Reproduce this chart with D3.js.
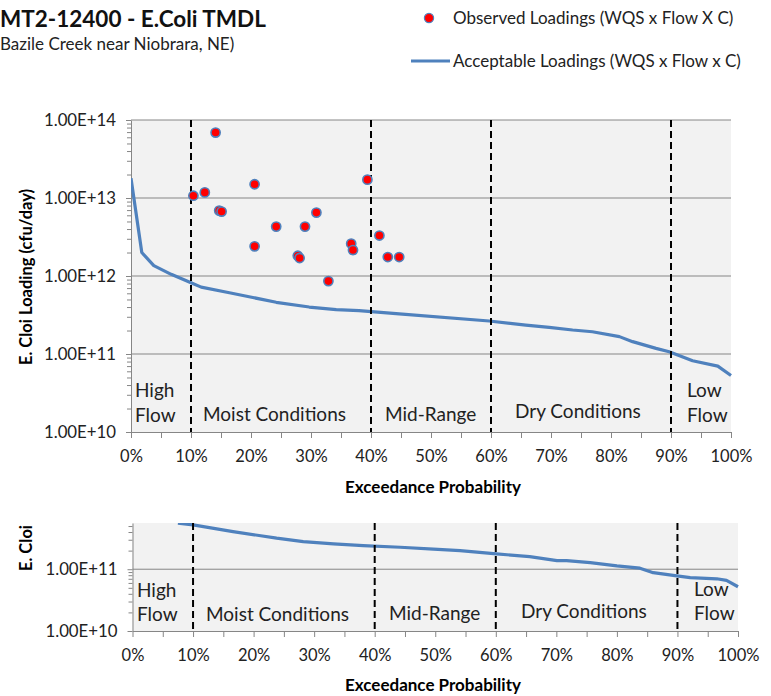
<!DOCTYPE html>
<html>
<head>
<meta charset="utf-8">
<script src="https://cdn.jsdelivr.net/npm/d3@7"></script>
<style>
  body { margin: 0; background: #fff; }
  svg { display: block; font-family: Lato, "Open Sans", sans-serif; }
</style>
</head>
<body>
<svg width="771" height="696"></svg>
<script>
// flow duration curve (acceptable loadings), exceedance % and cfu/day
var curvePct  = [0, 1.8, 3.8, 6.7, 10, 11.7, 16.4, 20.3, 24.2, 29.7, 34.2, 38, 44.7, 59.7, 65.8, 69.7, 73.6, 76.9, 81.4, 83.6, 87.5, 89.7, 93.6, 97.8, 100];
var curveLoad = [1.79e13, 2.0e12, 1.36e12, 1.05e12, 8.2e11, 7.2e11, 6.1e11, 5.3e11, 4.6e11, 4.0e11, 3.7e11, 3.6e11, 3.26e11, 2.65e11, 2.35e11, 2.2e11, 2.03e11, 1.93e11, 1.67e11, 1.44e11, 1.18e11, 1.07e11, 8.2e10, 7.0e10, 5.3e10];

// observed loadings
var obsPct  = [10.4, 12.3, 14.1, 14.7, 15.1, 20.6, 20.6, 24.2, 27.8, 28.1, 29.0, 30.9, 32.9, 36.7, 37.0, 39.4, 41.4, 42.8, 44.7];
var obsLoad = [1.07e13, 1.18e13, 6.9e13, 6.9e12, 6.7e12, 1.5e13, 2.4e12, 4.3e12, 1.82e12, 1.7e12, 4.3e12, 6.5e12, 8.6e11, 2.6e12, 2.15e12, 1.72e13, 3.3e12, 1.75e12, 1.75e12];

// curve shown in the lower (cropped) chart
var lowerPct  = [7.5, 10, 16.6, 23.8, 28.2, 33.2, 38.1, 44.2, 49.7, 54.1, 60.1, 65.6, 70.1, 71.7, 75.6, 80.0, 83.8, 86.0, 89.9, 92.1, 96.5, 98.1, 100];
var lowerLoad = [5.57e11, 5.22e11, 4.07e11, 3.18e11, 2.8e11, 2.57e11, 2.41e11, 2.27e11, 2.11e11, 2.0e11, 1.77e11, 1.6e11, 1.38e11, 1.38e11, 1.28e11, 1.13e11, 1.04e11, 8.8e10, 7.8e10, 7.3e10, 7.0e10, 6.6e10, 5.2e10];

var zoneBreaks = [10, 40, 60, 90];
var xTickVals = d3.range(0, 101, 5);

var svg = d3.select('svg');
var blue = '#4f81bd';
var axisGray = '#868686';

function drawPanel(p) {
  var x = d3.scaleLinear().domain([0, 100]).range([p.left, p.right]);
  var y = d3.scaleLog().domain(p.yDomain).range([p.bottom, p.top]);
  var g = svg.append('g');

  g.append('rect')
    .attr('x', p.left).attr('y', p.top)
    .attr('width', p.right - p.left).attr('height', p.bottom - p.top)
    .attr('fill', '#f2f2f2');

  // decade grid lines
  var decades = p.decades;
  g.selectAll('.grid').data(decades.slice(1)).enter().append('line')
    .attr('x1', p.left).attr('x2', p.right)
    .attr('y1', function(d) { return y(d) }).attr('y2', function(d) { return y(d) })
    .attr('stroke', axisGray).attr('stroke-width', 1);

  // minor log ticks
  var minors = [];
  decades.forEach(function(d) {
    for (var k = 2; k <= 9; k++) { if (d * k <= p.yDomain[1]) minors.push(d * k); }
  });
  g.append('g').attr('transform', 'translate(' + p.left + ',0)')
    .call(d3.axisLeft(y).tickValues(minors).tickSize(4).tickFormat('').tickSizeOuter(0))
    .call(function(a) { a.select('.domain').remove(); a.selectAll('line').attr('stroke', axisGray); });

  // major y axis
  g.append('g').attr('transform', 'translate(' + p.left + ',0)')
    .call(d3.axisLeft(y).tickValues(decades).tickSize(5).tickSizeOuter(0).tickPadding(10)
      .tickFormat(function(d) { return d.toExponential(2).replace('e+', 'E+') }))
    .call(function(a) {
      a.select('.domain').attr('stroke', axisGray);
      a.selectAll('line').attr('stroke', axisGray);
      a.selectAll('text').attr('font-size', 16.8).attr('fill', '#222').attr('font-family', 'Lato');
    });

  // x axis
  g.append('g').attr('transform', 'translate(0,' + p.bottom + ')')
    .call(d3.axisBottom(x).tickValues(xTickVals).tickSize(6).tickSizeOuter(0).tickPadding(12)
      .tickFormat(function(d) { return d % 10 === 0 ? d + '%' : '' }))
    .call(function(a) {
      a.select('.domain').attr('stroke', axisGray);
      a.selectAll('line').attr('stroke', axisGray);
      a.selectAll('text').attr('font-size', 16.5).attr('fill', '#222').attr('font-family', 'Lato');
    });

  var clipId = 'clip' + p.id;
  svg.append('clipPath').attr('id', clipId).append('rect')
    .attr('x', p.left).attr('y', p.top)
    .attr('width', p.right - p.left + 4).attr('height', p.bottom - p.top);

  var line = d3.line()
    .x(function(d) { return x(d[0]) })
    .y(function(d) { return y(d[1]) });
  g.append('path')
    .datum(d3.zip(p.linePct, p.lineLoad))
    .attr('clip-path', 'url(#' + clipId + ')')
    .attr('d', line)
    .attr('fill', 'none').attr('stroke', blue).attr('stroke-width', 3.2)
    .attr('stroke-linejoin', 'round');

  // hydrologic zone separators
  g.selectAll('.zone').data(zoneBreaks).enter().append('line')
    .attr('x1', function(d) { return x(d) }).attr('x2', function(d) { return x(d) })
    .attr('y1', p.top).attr('y2', p.bottom)
    .attr('stroke', '#000').attr('stroke-width', 2).attr('stroke-dasharray', '7,4');

  if (p.dots) {
    g.selectAll('.dot').data(d3.zip(obsPct, obsLoad)).enter().append('circle')
      .attr('cx', function(d) { return x(d[0]) })
      .attr('cy', function(d) { return y(d[1]) })
      .attr('r', 4.6)
      .attr('fill', '#ff0000').attr('stroke', blue).attr('stroke-width', 1.6);
  }

  // zone labels
  g.selectAll('.zl').data(p.zoneLabels).enter().append('text')
    .attr('x', function(d) { return d[1] }).attr('y', function(d) { return d[2] })
    .attr('font-size', 19).attr('fill', '#222')
    .text(function(d) { return d[0] });

  g.append('text')
    .attr('transform', 'translate(' + p.yTitle[0] + ',' + p.yTitle[1] + ') rotate(-90)')
    .attr('text-anchor', 'middle').attr('font-size', 16.5).attr('font-weight', 'bold')
    .text(p.yTitle[2]);

  g.append('text')
    .attr('x', 433).attr('y', p.xTitleY)
    .attr('text-anchor', 'middle').attr('font-size', 17).attr('font-weight', 'bold')
    .text('Exceedance Probability');
}

drawPanel({
  id: 'main', left: 131, right: 731, top: 120, bottom: 432,
  yDomain: [1e10, 1e14], decades: [1e10, 1e11, 1e12, 1e13, 1e14],
  linePct: curvePct, lineLoad: curveLoad, dots: true,
  zoneLabels: [['High', 135, 397], ['Flow', 135, 422], ['Moist Conditions', 203, 421],
               ['Mid-Range', 385, 421], ['Dry Conditions', 515, 418], ['Low', 687, 397], ['Flow', 687, 422]],
  yTitle: [32, 277, 'E. Cloi Loading (cfu/day)'], xTitleY: 493
});

drawPanel({
  id: 'low', left: 132.5, right: 738, top: 523, bottom: 631,
  yDomain: [1e10, 5.6e11], decades: [1e10, 1e11],
  linePct: lowerPct, lineLoad: lowerLoad, dots: false,
  zoneLabels: [['High', 137, 597], ['Flow', 137, 621], ['Moist Conditions', 206, 621],
               ['Mid-Range', 389, 620], ['Dry Conditions', 521, 618], ['Low', 694, 596], ['Flow', 694, 620]],
  yTitle: [32, 548, 'E. Cloi'], xTitleY: 691
});

// header
svg.append('text').attr('x', 0).attr('y', 27)
  .attr('font-size', 22.5).attr('font-weight', 'bold').attr('fill', '#111')
  .text('MT2-12400 - E.Coli TMDL');
svg.append('text').attr('x', 0).attr('y', 50)
  .attr('font-size', 17).attr('fill', '#222')
  .text('Bazile Creek near Niobrara, NE)');

// legend
svg.append('circle').attr('cx', 429).attr('cy', 18).attr('r', 4.6)
  .attr('fill', '#ff0000').attr('stroke', blue).attr('stroke-width', 1.2);
svg.append('text').attr('x', 453).attr('y', 24).attr('font-size', 17).attr('fill', '#222')
  .text('Observed Loadings (WQS x Flow X C)');
svg.append('line').attr('x1', 411).attr('x2', 450).attr('y1', 61).attr('y2', 61)
  .attr('stroke', blue).attr('stroke-width', 3.2);
svg.append('text').attr('x', 453).attr('y', 67).attr('font-size', 17).attr('fill', '#222')
  .text('Acceptable Loadings (WQS x Flow x C)');
</script>
</body>
</html>
